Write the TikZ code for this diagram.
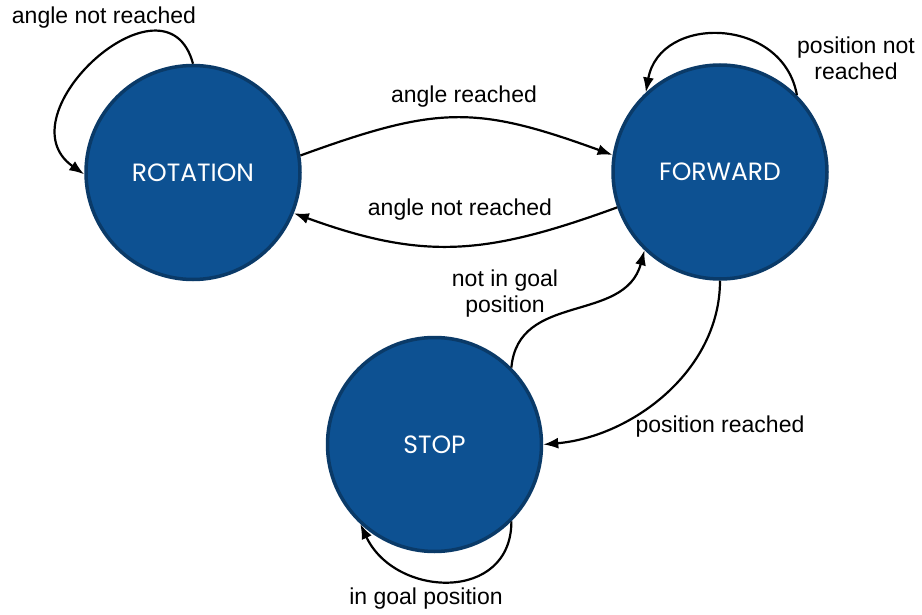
\documentclass[tikz,border=0pt]{standalone}
\usepackage{fontspec}
\setmainfont{Liberation Sans}
\newfontfamily\statefont{Poppins}
\usetikzlibrary{arrows.meta}
\definecolor{stfill}{HTML}{0D5192}
\definecolor{stline}{HTML}{0A3A68}
\begin{document}
\begin{tikzpicture}[x=1pt,y=-1pt,
  state/.style={circle,draw=stline,fill=stfill,line width=3.5pt,minimum size=214pt,inner sep=0pt,text=white,font=\statefont\fontsize{25}{29}\selectfont},
  lbl/.style={font=\fontsize{23}{26}\selectfont,align=center,inner sep=0pt},
  edge/.style={line width=2.2pt,-{Latex[length=15pt,width=11pt]}}]
\useasboundingbox (0,0) rectangle (922,615);
\fill[white] (0,0) rectangle (922,615);
\node[state] (rot) at (193,172.5) {ROTATION};
\node[state] (fwd) at (720,172) {FORWARD};
\node[state] (stop) at (434.5,444.5) {STOP};

\draw[edge] (rot.90) to[out=105,in=145,looseness=1.7] (rot.181);
\draw[edge] (rot.9) to[out=20,in=160,looseness=1.2] (fwd.171);
\draw[edge] (fwd.199) to[out=200,in=-20,looseness=1.1] (rot.-22);
\draw[edge] (fwd.45) to[out=100,in=80,looseness=1.35] (fwd.133);
\draw[edge] (stop.45) to[out=85,in=-105,looseness=1.1] (fwd.226);
\draw[edge] (fwd.-90) to[out=-90,in=5,looseness=0.95] (stop.0);
\draw[edge] (stop.-45) to[out=-90,in=-65,looseness=1.38] (stop.227);

\node[lbl] (l1) at (104,18) {angle not reached};
\node[lbl] (l2) at (464,96.5) {angle reached};
\node[lbl] (l3) at (460,210) {angle not reached};
\node[lbl] (l4) at (856,58) {position not\\reached};
\node[lbl] (l5) at (505,294) {not in goal\\position};
\node[lbl] (l6) at (720,427) {position reached};
\node[lbl] (l7) at (426,599) {in goal position};
\end{tikzpicture}
\end{document}
